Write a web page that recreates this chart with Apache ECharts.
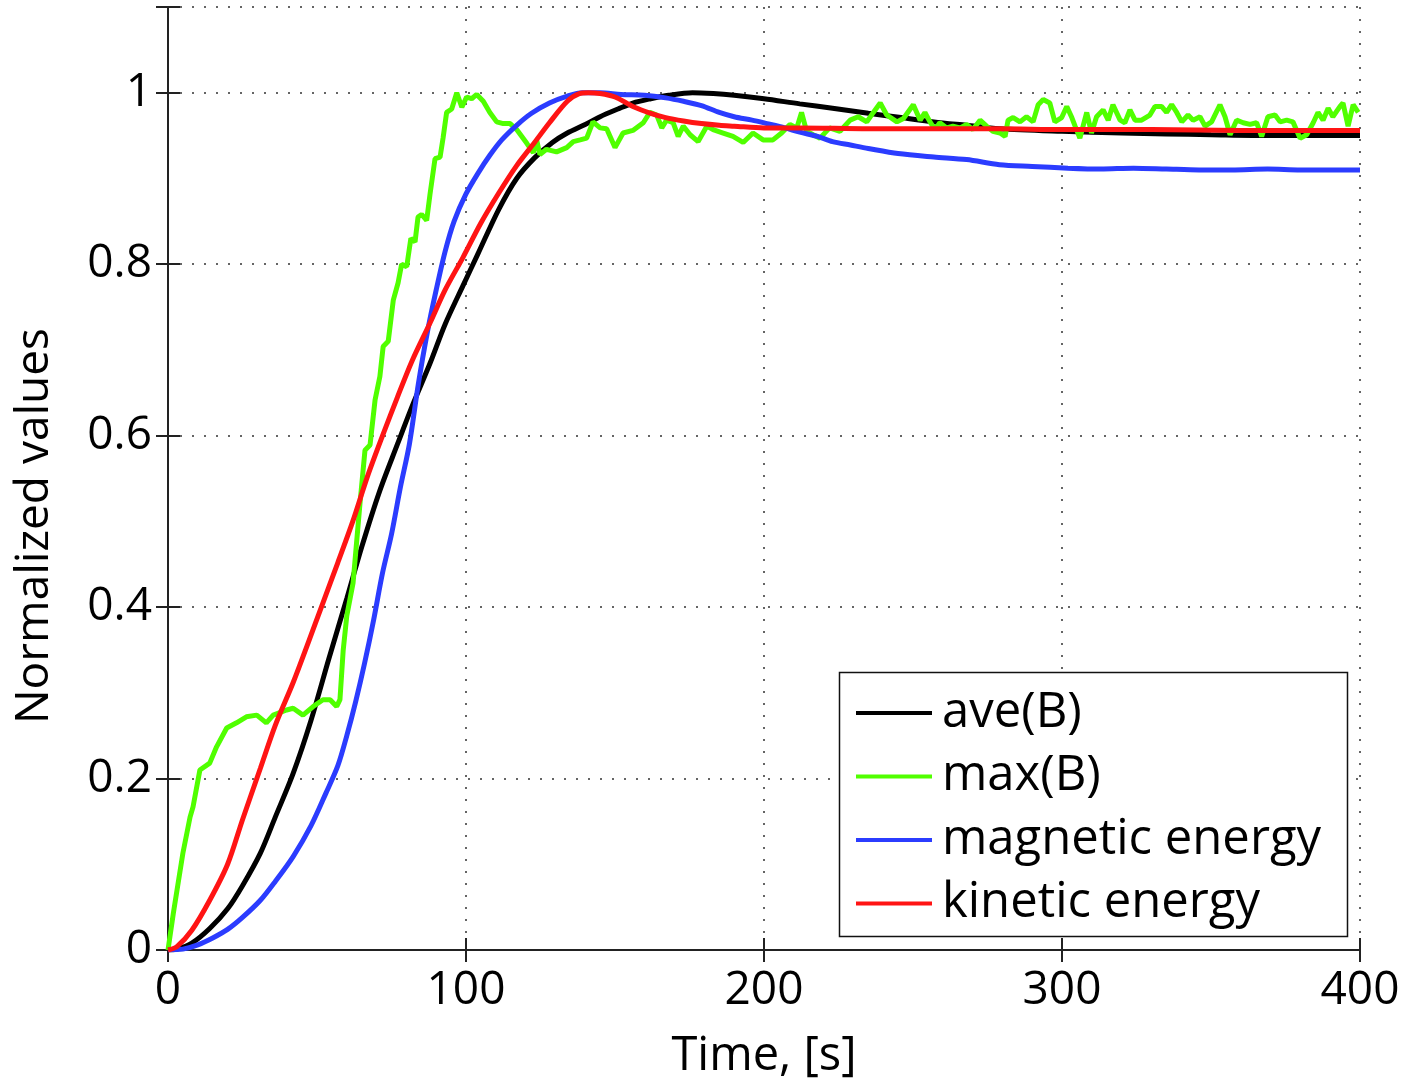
<!DOCTYPE html>
<html>
<head>
<meta charset="utf-8">
<script src="https://cdn.jsdelivr.net/npm/echarts@6/dist/echarts.min.js"></script>
<style>html,body{margin:0;padding:0;background:#fff}#c{width:1405px;height:1081px}</style>
</head>
<body>
<div id="c"></div>
<script>
// ---- data ----
const xTicks = [0, 100, 200, 300, 400];
const yTicks = [0, 0.2, 0.4, 0.6, 0.8, 1];

const aveT = [0, 3, 8, 14, 20, 25, 31, 36, 42, 48, 54, 60, 65, 71, 77, 82, 88, 93, 99, 104, 111, 117, 123, 129, 134, 140, 145, 151, 156, 162, 168, 176, 183, 190, 200, 212, 223, 235, 246, 257, 268, 279, 300, 320, 335, 350, 370, 385, 400];
const aveV = [0, 0.001, 0.008, 0.025, 0.048, 0.075, 0.113, 0.155, 0.206, 0.268, 0.34, 0.41, 0.47, 0.535, 0.59, 0.635, 0.685, 0.73, 0.775, 0.812, 0.864, 0.9, 0.924, 0.942, 0.953, 0.963, 0.972, 0.981, 0.988, 0.993, 0.997, 1.0, 0.999, 0.997, 0.993, 0.987, 0.982, 0.976, 0.971, 0.966, 0.962, 0.958, 0.955, 0.953, 0.952, 0.951, 0.95, 0.95, 0.95];

const magT = [0, 5, 10, 15, 20, 25, 31, 36, 42, 48, 53, 57, 60, 63, 66, 69, 72, 75, 78, 81, 84, 87, 90, 93, 96, 100, 104, 108, 112, 117, 122, 128, 134, 139, 145, 152, 160, 167, 173, 179, 185, 190, 196, 201, 207, 212, 218, 223, 229, 235, 245, 257, 268, 279, 290, 302, 313, 324, 335, 346, 357, 369, 380, 390, 400];
const magV = [0, 0.001, 0.006, 0.014, 0.024, 0.038, 0.058, 0.08, 0.109, 0.145, 0.183, 0.215, 0.25, 0.29, 0.335, 0.385, 0.44, 0.485, 0.54, 0.59, 0.66, 0.72, 0.77, 0.815, 0.85, 0.882, 0.906, 0.927, 0.945, 0.962, 0.976, 0.988, 0.996, 1.0, 1.0, 0.998, 0.997, 0.994, 0.99, 0.985, 0.977, 0.972, 0.968, 0.964, 0.959, 0.954, 0.949, 0.943, 0.939, 0.935, 0.929, 0.925, 0.922, 0.916, 0.914, 0.912, 0.911, 0.912, 0.911, 0.91, 0.91, 0.911, 0.91, 0.91, 0.91];

const maxT = [0, 1.8, 5, 7.4, 8.4, 10.7, 14, 16.3, 19.7, 23, 26.3, 29.8, 33, 35.3, 39.8, 42, 45.3, 48.7, 52, 54.4, 56.6, 57.7, 58.8, 60, 62.1, 64.4, 66.1, 67.8, 69.5, 71.1, 72.2, 73.9, 75.6, 77.2, 78.4, 80.1, 81.5, 82.9, 83.9, 85.1, 86.8, 87.9, 89.6, 91.3, 92.3, 93.5, 95.2, 96.9, 98.6, 100.2, 101.9, 103.6, 105.8, 108, 110.3, 112.5, 114.8, 117, 120.4, 122.6, 123.7, 124.8, 127, 130.4, 133.8, 136, 138.3, 140.5, 142.6, 145, 147.2, 150, 152.7, 156, 159.5, 161.7, 164, 165.7, 167.3, 169.5, 171.2, 172.9, 175.2, 177.9, 180.8, 182.9, 186.3, 189.6, 193, 196.3, 199.7, 203, 205.9, 208.7, 211, 212.6, 214.3, 216.5, 218.8, 222, 225.5, 228.9, 231.6, 234.5, 236.7, 239, 241.2, 244.6, 246.8, 250.1, 252.4, 254, 255.7, 257.4, 259, 261.3, 263.4, 265.8, 268, 270.1, 272.5, 274.7, 276.8, 279.2, 280.9, 281.9, 283.6, 285.9, 288.1, 290.3, 292, 293.7, 295.9, 297.6, 299.9, 301.6, 303.3, 304.4, 306, 308.3, 309.9, 311.6, 313.8, 315.5, 317.1, 319.5, 321.1, 322.8, 324.5, 326.7, 329.5, 331.2, 333.4, 335.1, 336.8, 338.5, 340.2, 342.3, 344, 346.3, 348, 350.2, 353, 354.7, 356.4, 358.6, 360.8, 363.1, 365.3, 367, 369.1, 371.5, 373.2, 375.4, 377.5, 379.9, 382.1, 384.3, 385.9, 387.6, 389.3, 390.9, 393.3, 394.3, 396, 397.7, 399.4];
const maxV = [0, 0.043, 0.113, 0.155, 0.167, 0.21, 0.218, 0.237, 0.259, 0.265, 0.272, 0.274, 0.265, 0.274, 0.28, 0.282, 0.274, 0.284, 0.292, 0.292, 0.284, 0.292, 0.35, 0.39, 0.428, 0.52, 0.583, 0.589, 0.642, 0.669, 0.704, 0.71, 0.758, 0.778, 0.8, 0.797, 0.83, 0.826, 0.855, 0.858, 0.851, 0.881, 0.923, 0.925, 0.947, 0.977, 0.981, 1.0, 0.983, 0.995, 0.993, 0.998, 0.99, 0.977, 0.966, 0.964, 0.964, 0.957, 0.941, 0.93, 0.945, 0.928, 0.934, 0.931, 0.936, 0.943, 0.945, 0.947, 0.966, 0.959, 0.958, 0.936, 0.953, 0.956, 0.965, 0.977, 0.974, 0.959, 0.968, 0.965, 0.949, 0.961, 0.951, 0.943, 0.961, 0.957, 0.953, 0.949, 0.942, 0.953, 0.945, 0.945, 0.953, 0.963, 0.959, 0.977, 0.955, 0.951, 0.947, 0.959, 0.955, 0.968, 0.972, 0.966, 0.977, 0.988, 0.974, 0.966, 0.97, 0.986, 0.968, 0.977, 0.966, 0.957, 0.965, 0.959, 0.961, 0.959, 0.963, 0.957, 0.968, 0.961, 0.955, 0.953, 0.949, 0.968, 0.971, 0.966, 0.972, 0.966, 0.986, 0.992, 0.988, 0.966, 0.971, 0.984, 0.971, 0.961, 0.947, 0.977, 0.953, 0.972, 0.98, 0.968, 0.986, 0.968, 0.965, 0.98, 0.968, 0.968, 0.974, 0.984, 0.984, 0.977, 0.986, 0.977, 0.966, 0.974, 0.968, 0.972, 0.961, 0.966, 0.986, 0.972, 0.951, 0.968, 0.965, 0.963, 0.965, 0.949, 0.972, 0.974, 0.966, 0.968, 0.966, 0.947, 0.951, 0.965, 0.977, 0.968, 0.982, 0.972, 0.984, 0.988, 0.961, 0.986, 0.977];

const kinT = [0, 3, 8, 14, 20, 25, 31, 36, 42, 47, 52, 57, 62, 67, 72, 77, 82, 88, 93, 99, 105, 111, 117, 123, 128, 134, 138, 141, 145, 150, 156, 162, 167, 173, 179, 185, 190, 200, 212, 235, 257, 279, 300, 330, 360, 400];
const kinV = [0, 0.004, 0.023, 0.058, 0.1, 0.152, 0.212, 0.262, 0.312, 0.358, 0.405, 0.452, 0.5, 0.553, 0.6, 0.645, 0.688, 0.732, 0.77, 0.808, 0.848, 0.883, 0.915, 0.942, 0.965, 0.99, 0.999, 1.0, 0.999, 0.995, 0.984, 0.976, 0.971, 0.967, 0.964, 0.962, 0.961, 0.959, 0.959, 0.958, 0.958, 0.958, 0.957, 0.957, 0.956, 0.956];

const seriesNames = ['ave(B)', 'max(B)', 'magnetic energy', 'kinetic energy'];
const seriesColors = ['#000000', '#50ff00', '#2b3cff', '#ff1414'];

const pairs = (t, v) => t.map((x, i) => [x, v[i]]);
const FONT = 'Open Sans';

const chart = echarts.init(document.getElementById('c'), null, { renderer: 'canvas' });
const gridLine = { show: true, lineStyle: { type: [2, 10], color: '#333', width: 1.5 } };
const axisLineStyle = { show: true, lineStyle: { color: '#222', width: 2 } };
const tickStyle = { show: true, inside: true, length: 12, lineStyle: { color: '#222', width: 2 } };

const option = {
  animation: false,
  backgroundColor: '#fff',
  grid: { left: 168, right: 45, top: 7, bottom: 131, containLabel: false, outerBoundsMode: 'none' },
  xAxis: [{
    type: 'value', min: xTicks[0], max: xTicks[xTicks.length - 1], interval: 100,
    position: 'bottom',
    axisLine: axisLineStyle, axisTick: tickStyle,
    axisLabel: { fontFamily: FONT, fontSize: 46, color: '#000', margin: 18 },
    splitLine: gridLine,
    name: 'Time, [s]', nameLocation: 'middle', nameGap: 83,
    nameTextStyle: { fontFamily: FONT, fontSize: 47, color: '#000' }
  }, {
    type: 'value', min: 0, max: 400, interval: 100, position: 'top',
    axisLine: axisLineStyle, axisTick: tickStyle, axisLabel: { show: false }, splitLine: { show: false }
  }],
  yAxis: [{
    type: 'value', min: 0, max: 1.1, interval: 0.2, position: 'left',
    axisLine: axisLineStyle, axisTick: tickStyle,
    axisLabel: { fontFamily: FONT, fontSize: 46, color: '#000', margin: 16,
      formatter: v => (v > 1.05 ? '' : String(Math.round(v * 10) / 10)) },
    splitLine: gridLine
  }, {
    type: 'value', min: 0, max: 1.1, interval: 0.2, position: 'right',
    axisLine: axisLineStyle, axisTick: tickStyle, axisLabel: { show: false }, splitLine: { show: false }
  }],
  legend: {
    orient: 'vertical', left: 839, top: 672, z: 60,
    padding: [16, 10, 10, 17], itemGap: 13.5, itemWidth: 76, itemHeight: 4, icon: 'rect',
    textStyle: { fontFamily: FONT, fontSize: 49, color: '#000', lineHeight: 50, padding: [0, 0, 0, 5] },
    data: seriesNames
  },
  graphic: [
    { type: 'rect', z: 50, shape: { x: 839.5, y: 672.5, width: 508, height: 264 },
      style: { fill: '#fff', stroke: '#111', lineWidth: 1.5 } },
    { type: 'text', z: 50, x: 35, y: 526, rotation: Math.PI / 2,
      style: { text: 'Normalized values', font: '46px "Open Sans"', fill: '#000', align: 'center', verticalAlign: 'middle' } }
  ],
  series: [
    { name: seriesNames[0], type: 'line', data: pairs(aveT, aveV), smooth: 0.3 },
    { name: seriesNames[1], type: 'line', data: pairs(maxT, maxV) },
    { name: seriesNames[2], type: 'line', data: pairs(magT, magV), smooth: 0.3 },
    { name: seriesNames[3], type: 'line', data: pairs(kinT, kinV), smooth: 0.3 }
  ].map((s, i) => Object.assign(s, {
    showSymbol: false, symbol: 'none', color: seriesColors[i],
    lineStyle: { width: 5, color: seriesColors[i] }, z: 2 + i
  }))
};
chart.setOption(option);
</script>
</body>
</html>
